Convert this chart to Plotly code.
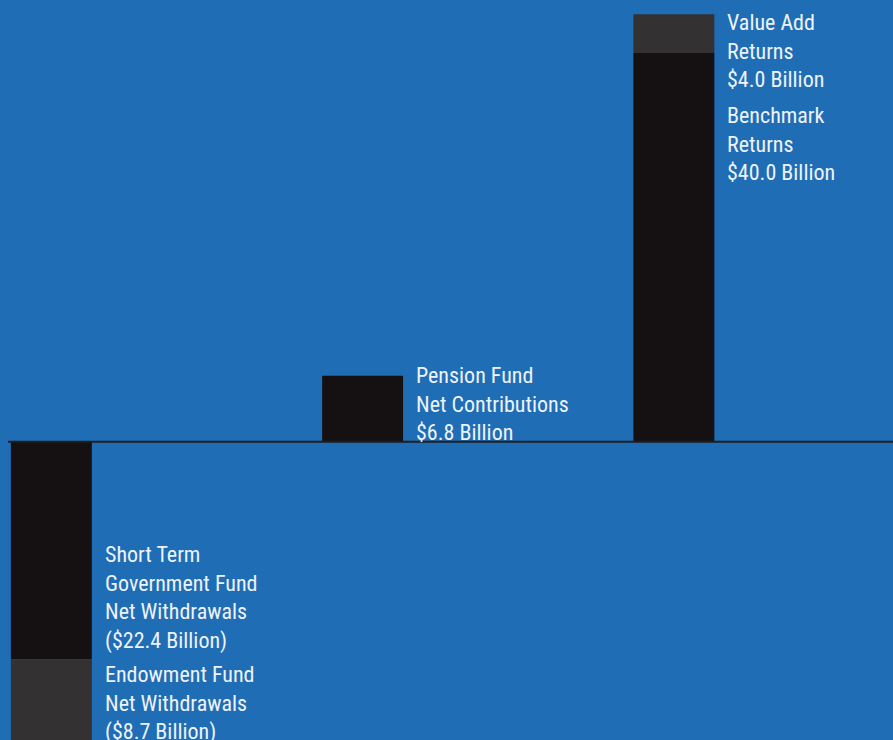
import plotly.graph_objects as go

categories = ["Funds", "Pension", "Returns"]
primary_values = [-22.4, 6.8, 40.0]
secondary_values = [-8.7, 0.0, 4.0]

primary_labels = [
    "Short Term<br>Government Fund<br>Net Withdrawals<br>($22.4 Billion)",
    "Pension Fund<br>Net Contributions<br>$6.8 Billion",
    "Benchmark<br>Returns<br>$40.0 Billion",
]
secondary_labels = [
    "Endowment Fund<br>Net Withdrawals<br>($8.7 Billion)",
    "",
    "Value Add<br>Returns<br>$4.0 Billion",
]

BG = "#1f6db5"
BLACK = "#151011"
GRAY = "#333132"
TXT = "#eef3fa"
FONT = "'Roboto Condensed', 'DejaVu Sans Condensed', sans-serif"
BAR_W = 0.26

fig = go.Figure()
fig.add_trace(go.Bar(x=categories, y=primary_values, marker=dict(color=BLACK, line=dict(width=0)),
                     width=BAR_W, hoverinfo="skip", showlegend=False))
fig.add_trace(go.Bar(x=categories, y=secondary_values, marker=dict(color=GRAY, line=dict(width=0)),
                     width=BAR_W, hoverinfo="skip", showlegend=False))

annos = []
for i, cat in enumerate(categories):
    p = primary_values[i]
    s = secondary_values[i]
    if p < 0:
        annos.append(dict(x=i + BAR_W / 2, y=p, text=primary_labels[i], yanchor="bottom", yshift=3))
        annos.append(dict(x=i + BAR_W / 2, y=p, text=secondary_labels[i], yanchor="top", yshift=-1))
    elif s == 0:
        annos.append(dict(x=i + BAR_W / 2, y=p, text=primary_labels[i], yanchor="top", yshift=15))
    else:
        annos.append(dict(x=i + BAR_W / 2, y=p + s, text=secondary_labels[i], yanchor="top", yshift=6))
        annos.append(dict(x=i + BAR_W / 2, y=p, text=primary_labels[i], yanchor="top", yshift=-48))

for a in annos:
    a.update(xref="x", yref="y", xanchor="left", xshift=11, align="left", showarrow=False,
             font=dict(family=FONT, size=22, color=TXT))

fig.update_layout(
    width=893, height=740,
    margin=dict(l=0, r=0, t=0, b=0),
    paper_bgcolor=BG, plot_bgcolor=BG,
    barmode="relative",
    xaxis=dict(type="category", range=[-0.165, 2.704], visible=False),
    yaxis=dict(range=[-30.7, 45.46], visible=False),
    annotations=annos,
    shapes=[dict(type="line", xref="paper", yref="y", x0=0.009, x1=1, y0=0, y1=0,
                 line=dict(color="#1e1e22", width=2), layer="above")],
)

fig.write_html("out.html", config={"displayModeBar": False},
               post_script="document.body.style.margin='0';")
